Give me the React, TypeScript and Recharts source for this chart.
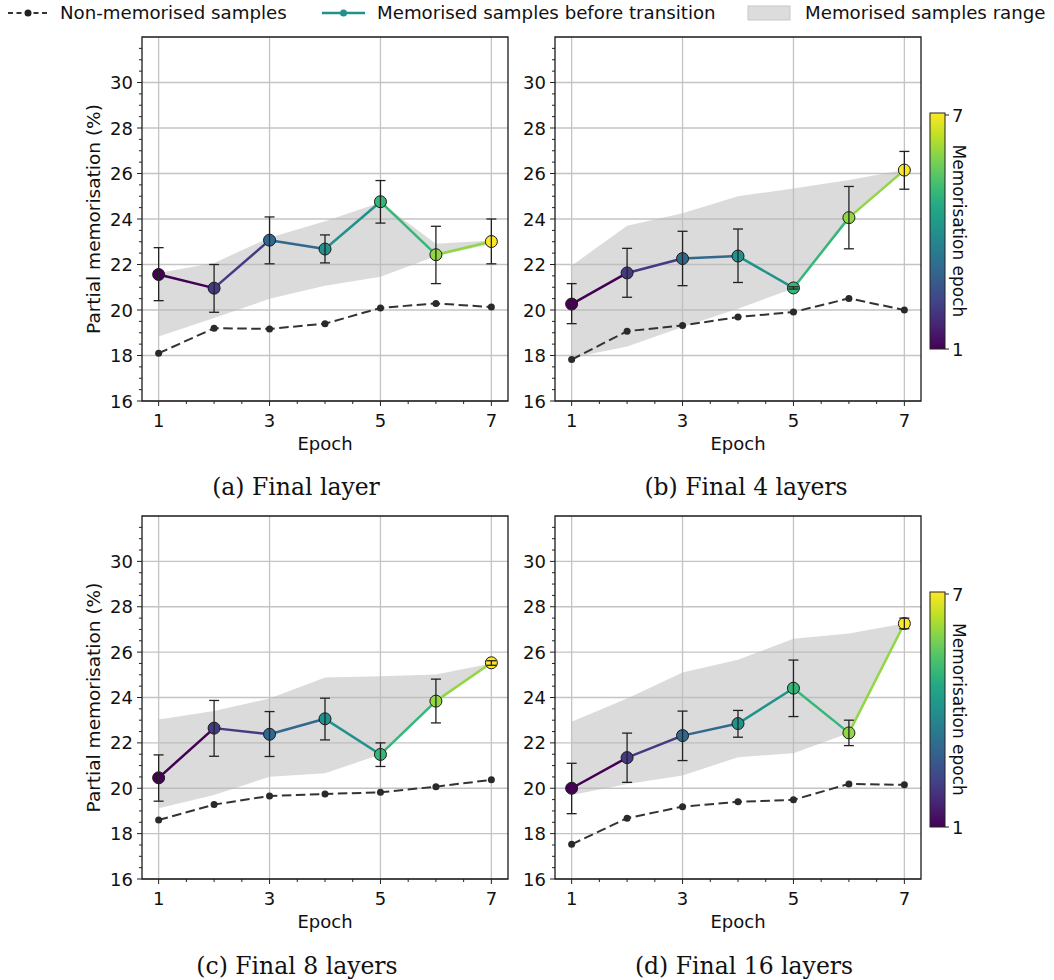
import React from 'react'
import {
  ComposedChart,
  Line,
  Area,
  XAxis,
  YAxis,
  CartesianGrid,
  ErrorBar,
  ReferenceArea,
} from 'recharts'

const epochs = [1, 2, 3, 4, 5, 6, 7]
const viridis7 = ['#440154', '#443983', '#31688e', '#21918c', '#35b779', '#90d743', '#fde725']
const viridisStops = [
  '#440154', '#482475', '#414487', '#355f8d', '#2a788e', '#21918c',
  '#22a884', '#44bf70', '#7ad151', '#bddf26', '#fde725',
]

const xTicks = [1, 1.5, 2, 2.5, 3, 3.5, 4, 4.5, 5, 5.5, 6, 6.5, 7]
const xMajor = [1, 3, 5, 7]
const yTicks = [
  16, 16.5, 17, 17.5, 18, 18.5, 19, 19.5, 20, 20.5, 21, 21.5, 22, 22.5, 23, 23.5,
  24, 24.5, 25, 25.5, 26, 26.5, 27, 27.5, 28, 28.5, 29, 29.5, 30, 30.5, 31, 31.5,
]
const yMajor = [16, 18, 20, 22, 24, 26, 28, 30]

// (a) Final layer
const nonMemA = [18.1, 19.2, 19.17, 19.4, 20.09, 20.29, 20.13]
const memA = [21.56, 20.96, 23.07, 22.68, 24.76, 22.43, 23.01]
const memLowA = [20.41, 19.9, 22.03, 22.07, 23.82, 21.16, 22.03]
const memHighA = [22.74, 22.0, 24.09, 23.3, 25.69, 23.68, 24.0]
const rangeLowA = [18.84, 19.65, 20.49, 21.07, 21.46, 22.37, 22.9]
const rangeHighA = [21.63, 22.07, 23.18, 23.9, 24.72, 22.91, 23.05]

// (b) Final 4 layers
const nonMemB = [17.82, 19.07, 19.32, 19.69, 19.91, 20.51, 20.0]
const memB = [20.26, 21.63, 22.26, 22.37, 20.97, 24.06, 26.15]
const memLowB = [19.4, 20.56, 21.07, 21.21, 20.92, 22.69, 25.31]
const memHighB = [21.16, 22.71, 23.46, 23.56, 21.02, 25.43, 26.97]
const rangeLowB = [17.9, 18.4, 19.25, 20.06, 20.95, 24.06, 26.15]
const rangeHighB = [21.95, 23.7, 24.25, 25.0, 25.34, 25.71, 26.15]

// (c) Final 8 layers
const nonMemC = [18.6, 19.28, 19.66, 19.75, 19.82, 20.07, 20.37]
const memC = [20.46, 22.65, 22.38, 23.06, 21.49, 23.84, 25.53]
const memLowC = [19.43, 21.41, 21.4, 22.13, 20.96, 22.88, 25.42]
const memHighC = [21.47, 23.87, 23.38, 23.97, 22.0, 24.81, 25.62]
const rangeLowC = [19.12, 19.7, 20.51, 20.66, 21.49, 23.84, 25.5]
const rangeHighC = [23.03, 23.41, 23.96, 24.88, 24.94, 25.01, 25.5]

// (d) Final 16 layers
const nonMemD = [17.53, 18.68, 19.19, 19.4, 19.49, 20.19, 20.15]
const memD = [20.0, 21.35, 22.32, 22.85, 24.41, 22.44, 27.26]
const memLowD = [18.88, 20.26, 21.22, 22.25, 23.16, 21.88, 27.03]
const memHighD = [21.1, 22.43, 23.4, 23.43, 25.65, 23.0, 27.5]
const rangeLowD = [19.7, 20.19, 20.56, 21.37, 21.54, 22.44, 27.26]
const rangeHighD = [22.93, 23.96, 25.1, 25.66, 26.59, 26.82, 27.26]

const FONT = '"DejaVu Sans", sans-serif'
const SERIF = '"DejaVu Serif", serif'

function buildRows(
  nonMem: number[], mem: number[], memLow: number[], memHigh: number[],
  rangeLow: number[], rangeHigh: number[],
) {
  return epochs.map((e, i) => {
    const row: any = {
      epoch: e,
      nonMem: nonMem[i],
      mem: mem[i],
      memErr: [mem[i] - memLow[i], memHigh[i] - mem[i]],
      range: [rangeLow[i], rangeHigh[i]],
    }
    for (let s = 0; s < epochs.length - 1; s++) {
      row['seg' + s] = i === s || i === s + 1 ? mem[i] : null
    }
    return row
  })
}

const XTick = (props: any) => {
  const { x, y, payload } = props
  const major = xMajor.includes(payload.value)
  return (
    <g>
      <line x1={x} x2={x} y1={y} y2={y + (major ? 5 : 3)} stroke="#222" strokeWidth={1} />
      {major && (
        <text x={x} y={y + 26} textAnchor="middle" fontSize={18} fill="#111" fontFamily={FONT}>
          {payload.value}
        </text>
      )}
    </g>
  )
}

const YTick = (props: any) => {
  const { x, y, payload } = props
  const major = yMajor.includes(payload.value)
  return (
    <g>
      <line x1={x - (major ? 5 : 3)} x2={x} y1={y} y2={y} stroke="#222" strokeWidth={1} />
      {major && (
        <text x={x - 9} y={y + 6.5} textAnchor="end" fontSize={18} fill="#111" fontFamily={FONT}>
          {payload.value}
        </text>
      )}
    </g>
  )
}

const MemDot = (props: any) => {
  const { cx, cy, index } = props
  if (cx == null || cy == null) return <g key={`md-${index}`} />
  return (
    <circle key={`md-${index}`} cx={cx} cy={cy} r={6} fill={viridis7[index]} stroke="#1a1a1a" strokeWidth={1} />
  )
}

interface PanelProps {
  rows: any[]
  plotLeft: number
  plotTop: number
  plotHeight: number
  showYLabel: boolean
}

function Panel({ rows, plotLeft, plotTop, plotHeight, showYLabel }: PanelProps) {
  const plotWidth = 366
  const yAxisWidth = 60
  const xAxisHeight = 52
  const W = 470
  const H = 440
  const ox = plotLeft - 82
  const oy = plotTop - 10
  return (
    <div style={{ position: 'absolute', left: ox, top: oy }}>
      <ComposedChart
        width={W}
        height={H}
        data={rows}
        margin={{ top: 10, left: 82 - yAxisWidth, right: W - 82 - plotWidth, bottom: H - 10 - plotHeight - xAxisHeight }}
      >
        <CartesianGrid
          stroke="#c4c4c4"
          strokeWidth={1.3}
          horizontalValues={yMajor}
          verticalValues={xMajor}
        />
        <XAxis
          type="number"
          dataKey="epoch"
          domain={[0.7, 7.3]}
          ticks={xTicks}
          interval={0}
          allowDataOverflow
          axisLine={false}
          tickLine={false}
          tickSize={0}
          tickMargin={0}
          height={xAxisHeight}
          tick={(p: any) => <XTick {...p} />}
          label={{ value: 'Epoch', position: 'insideBottom', offset: 3, fontSize: 18, fill: '#111', fontFamily: FONT }}
        />
        <YAxis
          type="number"
          domain={[16, 32]}
          ticks={yTicks}
          interval={0}
          allowDataOverflow
          axisLine={false}
          tickLine={false}
          tickSize={0}
          tickMargin={0}
          width={yAxisWidth}
          tick={(p: any) => <YTick {...p} />}
          label={
            showYLabel
              ? {
                  value: 'Partial memorisation (%)',
                  angle: -90,
                  position: 'insideLeft',
                  offset: 11,
                  fontSize: 18.5,
                  fill: '#111',
                  fontFamily: FONT,
                  style: { textAnchor: 'middle' },
                }
              : undefined
          }
        />
        <Area
          dataKey="range"
          type="linear"
          fill="#b8b8b8"
          fillOpacity={0.5}
          stroke="none"
          isAnimationActive={false}
        />
        <Line
          dataKey="nonMem"
          type="linear"
          stroke="#333"
          strokeWidth={2}
          strokeDasharray="9.5 4.5"
          dot={{ r: 3.5, fill: '#2a2a2a', stroke: 'none', strokeDasharray: '0' }}
          isAnimationActive={false}
        />
        {epochs.slice(0, -1).map((_, s) => (
          <Line
            key={'seg' + s}
            dataKey={'seg' + s}
            type="linear"
            stroke={viridis7[s]}
            strokeWidth={2.5}
            dot={false}
            connectNulls={false}
            isAnimationActive={false}
          />
        ))}
        <Line dataKey="mem" type="linear" stroke="none" dot={MemDot} isAnimationActive={false} />
        <Line dataKey="mem" type="linear" stroke="none" dot={false} isAnimationActive={false} {...({ zIndex: 650 } as any)}>
          <ErrorBar dataKey="memErr" direction="y" width={5} stroke="#222" strokeWidth={1.3} {...({ zIndex: 650 } as any)} />
        </Line>
        <ReferenceArea x1={0.7} x2={7.3} y1={16} y2={32} fill="none" stroke="#1a1a1a" strokeWidth={1.3} />
      </ComposedChart>
    </div>
  )
}

function Colorbar({ x, top, bottom }: { x: number; top: number; bottom: number }) {
  const id = `cbar-${top}`
  const w = 15
  const mid = (top + bottom) / 2
  return (
    <g>
      <defs>
        <linearGradient id={id} x1="0" y1="1" x2="0" y2="0">
          {viridisStops.map((c, i) => (
            <stop key={i} offset={i / (viridisStops.length - 1)} stopColor={c} />
          ))}
        </linearGradient>
      </defs>
      <rect x={x} y={top} width={w} height={bottom - top} fill={`url(#${id})`} stroke="#222" strokeWidth={1} />
      <line x1={x + w} x2={x + w + 4} y1={top + 2} y2={top + 2} stroke="#222" />
      <line x1={x + w} x2={x + w + 4} y1={bottom} y2={bottom} stroke="#222" />
      <text x={x + w + 7} y={top + 9} fontSize={18} fill="#111" fontFamily={FONT}>7</text>
      <text x={x + w + 7} y={bottom + 7} fontSize={18} fill="#111" fontFamily={FONT}>1</text>
      <text
        x={953}
        y={mid}
        fontSize={17}
        fill="#111"
        fontFamily={FONT}
        textAnchor="middle"
        transform={`rotate(90 953 ${mid})`}
      >
        Memorisation epoch
      </text>
    </g>
  )
}

export default function App() {
  const rowsA = buildRows(nonMemA, memA, memLowA, memHighA, rangeLowA, rangeHighA)
  const rowsB = buildRows(nonMemB, memB, memLowB, memHighB, rangeLowB, rangeHighB)
  const rowsC = buildRows(nonMemC, memC, memLowC, memHighC, rangeLowC, rangeHighC)
  const rowsD = buildRows(nonMemD, memD, memLowD, memHighD, rangeLowD, rangeHighD)

  return (
    <div style={{ position: 'absolute', left: 0, top: 0, width: 1054, height: 980, background: '#fff', fontFamily: FONT, overflow: 'hidden' }}>
      <Panel rows={rowsA} plotLeft={142} plotTop={37} plotHeight={364} showYLabel />
      <Panel rows={rowsB} plotLeft={555} plotTop={37} plotHeight={364} showYLabel={false} />
      <Panel rows={rowsC} plotLeft={142} plotTop={516} plotHeight={363} showYLabel />
      <Panel rows={rowsD} plotLeft={555} plotTop={516} plotHeight={363} showYLabel={false} />

      <svg width={1054} height={980} style={{ position: 'absolute', left: 0, top: 0, pointerEvents: 'none' }}>
        {/* legend */}
        <line x1={8} x2={48} y1={13} y2={13} stroke="#333" strokeWidth={2} strokeDasharray="5 3.5" />
        <circle cx={28} cy={13} r={3.5} fill="#222" />
        <text x={60} y={19} fontSize={18.2} fill="#111" fontFamily={FONT}>Non-memorised samples</text>
        <line x1={322} x2={365} y1={13} y2={13} stroke="#21918c" strokeWidth={2.5} />
        <circle cx={343.5} cy={13} r={3.5} fill="#21918c" />
        <text x={377} y={19} fontSize={18.2} fill="#111" fontFamily={FONT}>Memorised samples before transition</text>
        <rect x={748} y={6} width={42} height={14} fill="#dcdcdc" stroke="#c8c8c8" strokeWidth={1} />
        <text x={805} y={19} fontSize={18.2} fill="#111" fontFamily={FONT}>Memorised samples range</text>

        <Colorbar x={930} top={113} bottom={349} />
        <Colorbar x={930} top={592} bottom={827} />

        {/* captions */}
        <text x={296} y={495} textAnchor="middle" fontSize={23.5} fill="#111" fontFamily={SERIF}>(a) Final layer</text>
        <text x={746} y={495} textAnchor="middle" fontSize={23.5} fill="#111" fontFamily={SERIF}>(b) Final 4 layers</text>
        <text x={297} y={974} textAnchor="middle" fontSize={23.5} fill="#111" fontFamily={SERIF}>(c) Final 8 layers</text>
        <text x={744} y={974} textAnchor="middle" fontSize={23.5} fill="#111" fontFamily={SERIF}>(d) Final 16 layers</text>
      </svg>
    </div>
  )
}
